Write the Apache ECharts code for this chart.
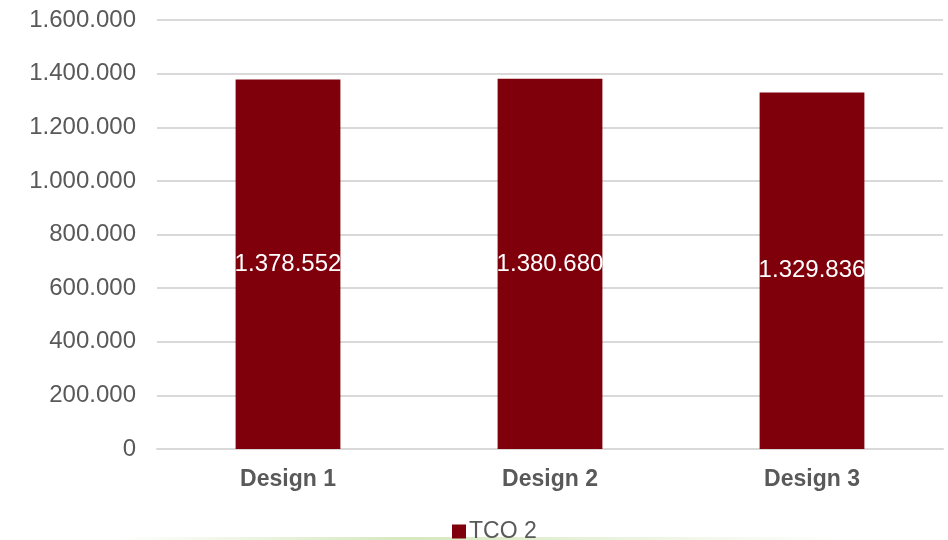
<!DOCTYPE html>
<html><head><meta charset="utf-8">
<script src="https://cdn.jsdelivr.net/npm/echarts@6/dist/echarts.min.js"></script>
<style>html,body{margin:0;padding:0;background:#fff}#c{width:948px;height:540px}</style>
</head><body><div id="c"></div>
<script>
const categories = ['Design 1', 'Design 2', 'Design 3'];
const seriesName = 'TCO 2';
const tco2 = [1378552, 1380680, 1329836];
const yMin = 0, yMax = 1600000, yStep = 200000;

function fmt(v){ return String(Math.round(v)).replace(/\B(?=(\d{3})+(?!\d))/g, '.'); }

const chart = echarts.init(document.getElementById('c'), null, {renderer:'canvas'});
chart.setOption({
  animation:false,
  backgroundColor:'#fff',
  textStyle:{fontFamily:'Liberation Sans, Arial, sans-serif'},
  grid:{left:157, right:5, top:20, bottom:91, containLabel:false},
  legend:{
    data:[seriesName], left:452, top:520, padding:0, itemWidth:14, itemHeight:14, itemGap:4,
    icon:'rect',
    textStyle:{fontSize:23, color:'#595959', padding:[0,0,0,-2]}
  },
  xAxis:{
    type:'category', data:categories,
    axisLine:{show:true, lineStyle:{color:'#d9d9d9', width:2}},
    axisTick:{show:false},
    axisLabel:{fontSize:23, fontWeight:'bold', color:'#595959', margin:19}
  },
  yAxis:{
    type:'value', min:yMin, max:yMax, interval:yStep,
    axisLine:{show:false}, axisTick:{show:false},
    splitLine:{lineStyle:{color:'#d9d9d9', width:2}},
    axisLabel:{fontSize:24, color:'#595959', margin:21, formatter:fmt}
  },
  series:[{
    name:seriesName, type:'bar', data:tco2, barWidth:'40%',
    itemStyle:{color:'#7f000b'},
    label:{show:true, position:'inside', color:'#fff', fontSize:24, formatter:p=>fmt(p.value)}
  }],
  graphic:[{
    type:'rect', left:120, top:537, shape:{width:720, height:3},
    style:{fill:new echarts.graphic.LinearGradient(0,0,1,0,[
      {offset:0,color:'rgba(214,232,190,0)'},
      {offset:0.4,color:'rgba(214,232,190,1)'},
      {offset:1,color:'rgba(214,232,190,0)'}])},
    silent:true
  }]
});
</script></body></html>
